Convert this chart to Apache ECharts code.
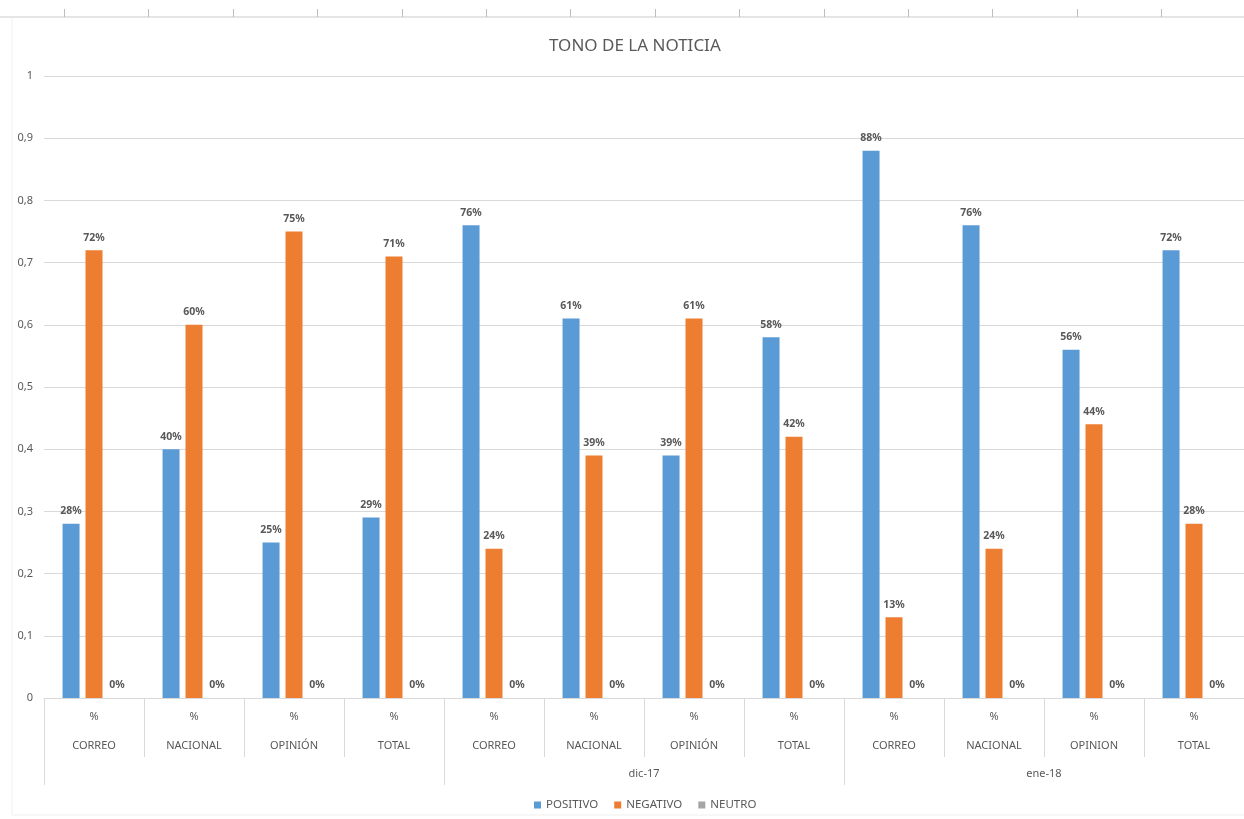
<!DOCTYPE html>
<html>
<head>
<meta charset="utf-8">
<title>TONO DE LA NOTICIA</title>
<script src="https://cdn.jsdelivr.net/npm/echarts@6/dist/echarts.min.js"></script>
<style>
  html, body { margin: 0; padding: 0; background: #ffffff; }
  #chart { width: 1244px; height: 819px; }
</style>
</head>
<body>
<div id="chart"></div>
<script>
// Categories: one row of sections, repeated for each period
const sections = ['CORREO', 'NACIONAL', 'OPINIÓN', 'TOTAL',
                  'CORREO', 'NACIONAL', 'OPINIÓN', 'TOTAL',
                  'CORREO', 'NACIONAL', 'OPINION', 'TOTAL'];
const periods = ['', 'dic-17', 'ene-18'];

// Share of news items by tone
const positivo = [0.28, 0.40, 0.25, 0.29, 0.76, 0.61, 0.39, 0.58, 0.88, 0.76, 0.56, 0.72];
const negativo = [0.72, 0.60, 0.75, 0.71, 0.24, 0.39, 0.61, 0.42, 0.13, 0.24, 0.44, 0.28];
const neutro   = [0, 0, 0, 0, 0, 0, 0, 0, 0, 0, 0, 0];

const yTicks = { min: 0, max: 1, interval: 0.1 };

const FONT = '"Noto Sans", sans-serif';
const TEXT = '#595959';
const RULE = '#d9d9d9';

const chart = echarts.init(document.getElementById('chart'), null, { renderer: 'canvas' });

function pct(p) { return Math.round(p.value * 100) + '%'; }

function barSeries(name, data, color) {
  return {
    name: name,
    type: 'bar',
    data: data,
    barWidth: 17,
    barGap: '35%',
    itemStyle: { color: color },
    label: {
      show: true,
      position: 'top',
      distance: 7,
      formatter: pct,
      fontFamily: FONT,
      fontSize: 10.5,
      fontWeight: 'bold',
      color: '#595959'
    }
  };
}

// Spreadsheet column ruler along the top edge and the faint chart frame
const frame = [
  { type: 'line', shape: { x1: 0, y1: 17, x2: 1244, y2: 17 }, style: { stroke: '#dcdcdc', lineWidth: 1.5 }, silent: true },
  { type: 'line', shape: { x1: 12, y1: 18, x2: 12, y2: 815 }, style: { stroke: '#efefef', lineWidth: 1 }, silent: true },
  { type: 'line', shape: { x1: 12, y1: 815, x2: 1244, y2: 815 }, style: { stroke: '#efefef', lineWidth: 1 }, silent: true }
];
for (let x = 64; x < 1244; x += 84.4) {
  frame.push({ type: 'line', shape: { x1: Math.round(x) + 0.5, y1: 9, x2: Math.round(x) + 0.5, y2: 17 },
               style: { stroke: '#bdbdbd', lineWidth: 1 }, silent: true });
}

chart.setOption({
  backgroundColor: '#ffffff',
  animation: false,
  textStyle: { fontFamily: FONT },
  graphic: frame,
  title: {
    text: 'TONO DE LA NOTICIA',
    left: 544,
    top: 33,
    textStyle: { fontFamily: FONT, fontSize: 17, fontWeight: 'normal', color: TEXT }
  },
  legend: {
    bottom: 3,
    left: 529,
    icon: 'rect',
    itemWidth: 7,
    itemHeight: 7,
    itemGap: 16,
    textStyle: { fontFamily: FONT, fontSize: 11.5, color: TEXT },
    data: ['POSITIVO', 'NEGATIVO', 'NEUTRO']
  },
  grid: { left: 44, right: 0, top: 76, bottom: 121, containLabel: false },
  xAxis: [
    {
      type: 'category',
      data: sections,
      position: 'bottom',
      axisLine: { show: true, lineStyle: { color: RULE } },
      axisTick: { show: true, interval: 0, length: 59, lineStyle: { color: RULE } },
      axisLabel: {
        interval: 0,
        margin: 4,
        formatter: function (v) { return '{p|%}\n{n|' + v + '}'; },
        rich: {
          p: { fontFamily: FONT, fontSize: 11, color: TEXT, lineHeight: 29 },
          n: { fontFamily: FONT, fontSize: 11, color: TEXT, lineHeight: 29 }
        }
      }
    },
    {
      type: 'category',
      data: periods,
      position: 'bottom',
      axisLine: { show: false },
      axisTick: { show: true, interval: 0, length: 87, lineStyle: { color: RULE } },
      axisLabel: {
        interval: 0,
        margin: 70,
        fontFamily: FONT,
        fontSize: 11,
        color: TEXT
      }
    }
  ],
  yAxis: {
    type: 'value',
    min: yTicks.min,
    max: yTicks.max,
    interval: yTicks.interval,
    axisLine: { show: false },
    axisTick: { show: false },
    splitLine: { lineStyle: { color: RULE } },
    axisLabel: {
      margin: 11,
      fontFamily: FONT,
      fontSize: 11,
      color: TEXT,
      formatter: function (v) { return String(+v.toFixed(1)).replace('.', ','); }
    }
  },
  series: [
    barSeries('POSITIVO', positivo, '#5b9bd5'),
    barSeries('NEGATIVO', negativo, '#ed7d31'),
    barSeries('NEUTRO', neutro, '#a5a5a5')
  ]
});
</script>
</body>
</html>
